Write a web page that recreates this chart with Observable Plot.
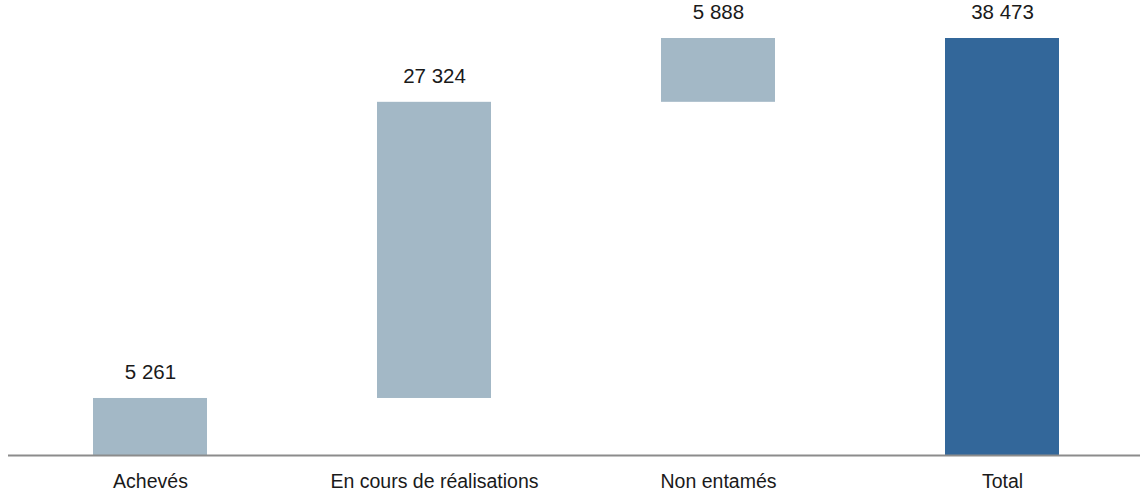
<!DOCTYPE html>
<html>
<head>
<meta charset="utf-8">
<script src="https://cdn.jsdelivr.net/npm/d3@7"></script>
<script src="https://cdn.jsdelivr.net/npm/@observablehq/plot@0.6"></script>
<style>
  html, body { margin: 0; padding: 0; background: #fff; }
  #chart svg { display: block; }
</style>
</head>
<body>
<div id="chart"></div>
<script>
const categories = ["Achevés", "En cours de réalisations", "Non entamés", "Total"];
const values = [5261, 27324, 5888, 38473];
const isTotal = [false, false, false, true];

// waterfall: running start/end
let run = 0;
const rows = categories.map((c, i) => {
  let start, end;
  if (isTotal[i]) { start = 0; end = values[i]; }
  else { start = run; end = run + values[i]; run = end; }
  return { category: c, value: values[i], start, end, total: isTotal[i] };
});

const fmt = v => d3.format(",")(v).replace(/,/g, "\u00a0");
const FONT = "'Liberation Sans', Arial, sans-serif";

const chart = Plot.plot({
  width: 1140,
  height: 497,
  marginTop: 38,
  marginBottom: 42,
  marginLeft: 8,
  marginRight: 0,
  style: { fontFamily: FONT, fontSize: "19.5px", color: "#1a1a1a", background: "#fff" },
  x: { domain: categories, paddingInner: 0.6, paddingOuter: 0.29, align: 0.511, label: null },
  y: { domain: [0, 38473], axis: null },
  marks: [
    Plot.barY(rows, {
      x: "category", y1: "start", y2: "end",
      fill: d => d.total ? "#33679a" : "#a3b8c6"
    }),
    Plot.ruleY([0], { stroke: "#8c8c8c", strokeWidth: 2 }),
    Plot.text(rows, {
      x: "category", y: "end", text: d => fmt(d.value),
      dy: -26, fill: "#1a1a1a", fontSize: 20.5
    }),
    Plot.axisX({ tickSize: 0, tickPadding: 19, fontSize: 19.5, fill: "#1a1a1a", label: null })
  ]
});
document.getElementById("chart").appendChild(chart);
</script>
</body>
</html>
